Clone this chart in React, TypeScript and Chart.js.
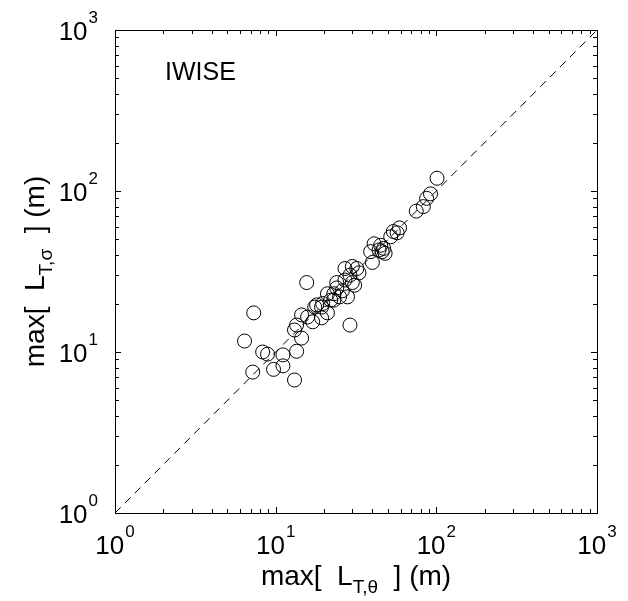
import { useEffect, useRef } from "react";
import { Chart, registerables } from "chart.js";
Chart.register(...registerables);

// max[L_T,theta] (m)
const maxLTheta = [101, 92, 87, 83, 75, 59, 57, 54, 52, 41, 45, 47, 44, 39, 46, 48, 40, 27, 30, 32, 33, 29, 31, 30, 27, 24, 15.6, 24, 26, 28, 25, 23, 21, 22, 23, 19.6, 18, 17.5, 19.3, 21, 15.8, 14.5, 17, 19.3, 29, 14.5, 13.5, 13.1, 13.5, 11.1, 11.1, 9.7, 8.3, 8.9, 7.2, 6.4, 7.3, 13.1];
// max[L_T,sigma] (m)
const maxLSigma = [120, 96, 90, 80, 75, 59, 55, 56, 52, 47, 46, 44, 43, 42, 42, 41, 36, 33, 34, 33, 31, 30, 26, 27, 28, 27, 27, 25, 24, 22, 22, 23, 23, 21, 21, 20, 19.6, 19, 19, 17.5, 16.5, 17, 15.4, 16.3, 14.7, 12.2, 14.7, 13.7, 10.1, 9.6, 8.2, 7.8, 10, 9.7, 7.5, 11.7, 17.5, 6.7];

const decadeTicks = [1, 10, 100, 1000];
const decadeExponents = ["0", "1", "2", "3"];
const oneToOneLine = [1, 1000];
const panelLabel = "IWISE";
const xTitleParts = ["max[  L", "T,θ", "  ] (m)"];
const yTitleParts = ["max[  L", "T,σ", "  ] (m)"];

const FONT = "'Liberation Sans', Arial, Helvetica, sans-serif";

function drawPow(ctx: CanvasRenderingContext2D, exp: string, x: number, baseY: number, align: "center" | "right") {
  ctx.font = `26px ${FONT}`;
  const wb = ctx.measureText("10").width;
  ctx.font = `17px ${FONT}`;
  const we = ctx.measureText(exp).width;
  const total = wb + 1 + we;
  const sx = align === "center" ? x - total / 2 : x - total;
  ctx.textAlign = "left";
  ctx.textBaseline = "alphabetic";
  ctx.font = `26px ${FONT}`;
  ctx.fillText("10", sx, baseY);
  ctx.font = `17px ${FONT}`;
  ctx.fillText(exp, sx + wb + 1, baseY - 17);
}

function drawSubTitle(ctx: CanvasRenderingContext2D, parts: string[], cx: number, baseY: number) {
  ctx.textAlign = "left";
  ctx.textBaseline = "alphabetic";
  ctx.font = `28px ${FONT}`;
  const w0 = ctx.measureText(parts[0]).width;
  const w2 = ctx.measureText(parts[2]).width;
  ctx.font = `19px ${FONT}`;
  const w1 = ctx.measureText(parts[1]).width;
  const total = w0 + w1 + w2;
  let x = cx - total / 2;
  ctx.font = `28px ${FONT}`;
  ctx.fillText(parts[0], x, baseY);
  x += w0;
  ctx.font = `19px ${FONT}`;
  ctx.fillText(parts[1], x, baseY + 8);
  x += w1;
  ctx.font = `28px ${FONT}`;
  ctx.fillText(parts[2], x, baseY);
}

const axesPlugin = {
  id: "matlabAxes",
  afterDraw(chart: any) {
    const { ctx, chartArea } = chart;
    const xs = chart.scales.x;
    const ys = chart.scales.y;
    const { left, right, top, bottom } = chartArea;
    ctx.save();
    ctx.strokeStyle = "#000";
    ctx.fillStyle = "#000";
    ctx.lineWidth = 1;
    ctx.strokeRect(Math.round(left) + 0.5, Math.round(top) + 0.5, Math.round(right - left), Math.round(bottom - top));

    const ticks: { v: number; major: boolean }[] = [];
    for (let d = 0; d < 3; d++) {
      const base = decadeTicks[d];
      for (let m = 1; m < 10; m++) ticks.push({ v: base * m, major: m === 1 });
    }
    ticks.push({ v: 1000, major: true });
    ctx.beginPath();
    for (const t of ticks) {
      const len = t.major ? 6 : 4;
      const px = Math.round(xs.getPixelForValue(t.v)) + 0.5;
      ctx.moveTo(px, bottom);
      ctx.lineTo(px, bottom - len);
      ctx.moveTo(px, top);
      ctx.lineTo(px, top + len);
      const py = Math.round(ys.getPixelForValue(t.v)) + 0.5;
      ctx.moveTo(left, py);
      ctx.lineTo(left + len, py);
      ctx.moveTo(right, py);
      ctx.lineTo(right - len, py);
    }
    ctx.stroke();

    decadeTicks.forEach((v, i) => {
      const px = xs.getPixelForValue(v);
      drawPow(ctx, decadeExponents[i], px, bottom + 41, "center");
      const py = ys.getPixelForValue(v);
      drawPow(ctx, decadeExponents[i], left - 17, py + 10, "right");
    });

    drawSubTitle(ctx, xTitleParts, (left + right) / 2, 585);
    ctx.save();
    ctx.translate(44, (top + bottom) / 2);
    ctx.rotate(-Math.PI / 2);
    drawSubTitle(ctx, yTitleParts, 0, 0);
    ctx.restore();

    ctx.font = `25px ${FONT}`;
    ctx.textAlign = "left";
    ctx.textBaseline = "alphabetic";
    ctx.fillText(panelLabel, left + 50, top + 50);
    ctx.restore();
  },
};

export default function App() {
  const ref = useRef<HTMLCanvasElement | null>(null);
  useEffect(() => {
    if (!ref.current) return;
    const chart = new Chart(ref.current, {
      type: "scatter",
      data: {
        datasets: [
          {
            type: "line",
            data: oneToOneLine.map((v) => ({ x: v, y: v })),
            borderColor: "#000",
            borderWidth: 1,
            borderDash: [8, 6],
            pointRadius: 0,
            fill: false,
          } as any,
          {
            type: "scatter",
            data: maxLTheta.map((x, i) => ({ x, y: maxLSigma[i] })),
            pointRadius: 7,
            pointBorderWidth: 1,
            pointBorderColor: "#000",
            pointBackgroundColor: "rgba(0,0,0,0)",
            borderColor: "#000",
            backgroundColor: "rgba(0,0,0,0)",
          },
        ],
      },
      options: {
        responsive: false,
        animation: false,
        layout: { padding: { left: 115, right: 31, top: 30, bottom: 88 } },
        plugins: { legend: { display: false }, tooltip: { enabled: false } },
        scales: {
          x: { type: "logarithmic", min: 1, max: 1000, display: false },
          y: { type: "logarithmic", min: 1, max: 1000, display: false },
        },
      },
      plugins: [axesPlugin],
    });
    return () => chart.destroy();
  }, []);
  return (
    <div style={{ position: "fixed", left: 0, top: 0, width: 628, height: 601, background: "#fff" }}>
      <canvas ref={ref} width={628} height={601} style={{ width: 628, height: 601, display: "block" }} />
    </div>
  );
}
